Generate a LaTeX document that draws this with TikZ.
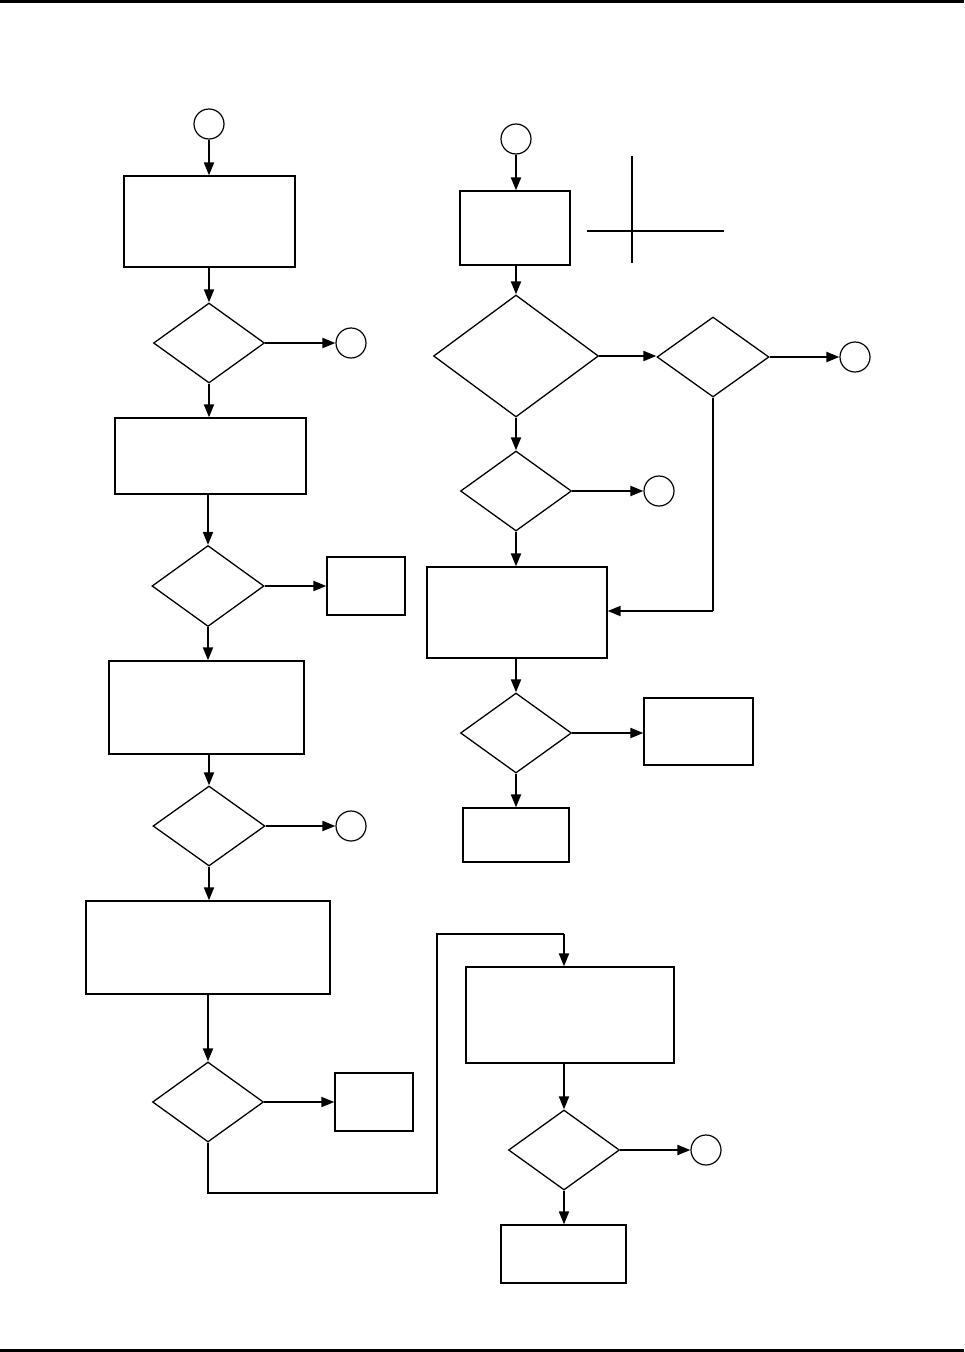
\documentclass[tikz,border=0pt]{standalone}
\usetikzlibrary{shapes.geometric,arrows.meta}
\begin{document}
\begin{tikzpicture}[x=1pt,y=-1pt,
  box/.style={draw,line width=1.3pt,rectangle,inner sep=0pt},
  dia/.style={draw,line width=1.3pt,diamond,inner sep=0pt,minimum width=111pt,minimum height=80pt},
  con/.style={draw,line width=1.2pt,circle,inner sep=0pt,minimum size=30pt},
  arr/.style={line width=2pt,-{Triangle[length=13pt,width=10pt]}},
  ln/.style={line width=2pt}]
\useasboundingbox (0,0) rectangle (964,1352);
\fill (0,0) rectangle (964,2.5);
\fill (0,1348.5) rectangle (964,1352);
% left column
\node[con] (c1) at (209,124) {};
\node[box,minimum width=171pt,minimum height=91pt] (b1) at (209.5,221.5) {};
\node[dia] (d1) at (209,343) {};
\node[con] (c2) at (351,343) {};
\node[box,minimum width=191pt,minimum height=76pt] (b2) at (210.5,456) {};
\node[dia,minimum width=112pt,minimum height=81pt] (d2) at (208,586) {};
\node[box,minimum width=78pt,minimum height=58pt] (s1) at (366,586) {};
\node[box,minimum width=195pt,minimum height=93pt] (b3) at (206.5,707.5) {};
\node[dia,minimum width=112pt] (d3) at (209,826) {};
\node[con] (c3) at (351,826) {};
\node[box,minimum width=244pt,minimum height=93pt] (b4) at (208,947.5) {};
\node[dia] (d4) at (208,1102) {};
\node[box,minimum width=78pt,minimum height=58pt] (s2) at (374,1102) {};
\coordinate (k1) at (208,1193);
\coordinate (k2) at (437,1193);
\coordinate (k3) at (437,934);
\coordinate (k4) at (564,934);
\node[box,minimum width=208pt,minimum height=96pt] (b5) at (570,1015) {};
\node[dia] (d5) at (564,1150) {};
\node[con] (c4) at (706,1150) {};
\node[box,minimum width=125pt,minimum height=58pt] (b6) at (563.5,1254) {};
% right column
\node[con] (c5) at (516,139) {};
\node[box,minimum width=110pt,minimum height=74pt] (r1) at (515,228) {};
\node[dia,minimum width=165pt,minimum height=122pt] (d6) at (516,356) {};
\node[dia,minimum width=112pt] (d7) at (713,357) {};
\node[con] (c6) at (855,357) {};
\node[dia] (d8) at (516,491) {};
\node[con] (c7) at (659,491) {};
\node[box,minimum width=180pt,minimum height=91pt] (r2) at (517,612.5) {};
\node[dia] (d9) at (516,733) {};
\node[box,minimum width=109pt,minimum height=67pt] (r4) at (698.5,731.5) {};
\node[box,minimum width=106pt,minimum height=54pt] (r3) at (516,835) {};
\coordinate (k5) at (713,611);
% cross
\coordinate (x1) at (632,156);
\coordinate (x2) at (632,263);
\coordinate (x3) at (587,231);
\coordinate (x4) at (724,231);
\draw[line width=1.5pt] (x1) -- (x2);
\draw[line width=1.3pt] (x3) -- (x4);
% connectors left
\draw[arr] (c1) -- (b1.north -| c1);
\draw[arr] (b1.south -| d1) -- (d1);
\draw[arr] (d1) -- (c2);
\draw[arr] (d1) -- (b2.north -| d1);
\draw[arr] (b2.south -| d2) -- (d2);
\draw[arr] (d2) -- (d2.east -| s1.west);
\draw[arr] (d2) -- (b3.north -| d2);
\draw[arr] (b3.south -| d3) -- (d3);
\draw[arr] (d3) -- (c3);
\draw[arr] (d3) -- (b4.north -| d3);
\draw[arr] (b4.south -| d4) -- (d4);
\draw[arr] (d4) -- (d4.east -| s2.west);
\draw[ln,line join=miter] (d4.south) -- (k1) -- (k2) -- (k3) -- (k4);
\draw[arr] (k4) -- (b5.north -| k4);
\draw[arr] (b5.south -| d5) -- (d5);
\draw[arr] (d5) -- (c4);
\draw[arr] (d5) -- (b6.north -| d5);
% connectors right
\draw[arr] (c5) -- (r1.north -| c5);
\draw[arr] (r1.south -| c5) -- (d6);
\draw[arr] (d6) -- (d6.east -| d7.west);
\draw[arr] (d7) -- (c6);
\draw[ln] (d7.south) -- (k5);
\draw[arr] (k5) -- (r2.east |- k5);
\draw[arr] (d6) -- (d8);
\draw[arr] (d8) -- (c7);
\draw[arr] (d8) -- (r2.north -| d8);
\draw[arr] (r2.south -| d9) -- (d9);
\draw[arr] (d9) -- (d9.east -| r4.west);
\draw[arr] (d9) -- (r3.north -| d9);
\end{tikzpicture}
\end{document}
